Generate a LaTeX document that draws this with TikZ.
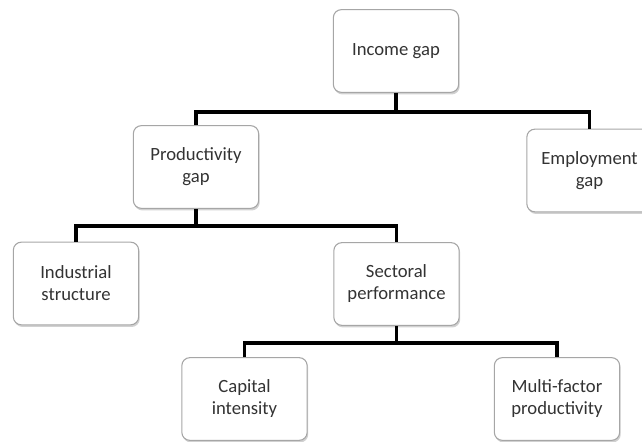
\documentclass[tikz,border=0pt]{standalone}
\usepackage{fontspec}
\setmainfont{Carlito}
\usetikzlibrary{shadows}
\definecolor{boxline}{HTML}{A6A6A6}
\definecolor{txt}{HTML}{333333}
\tikzset{
  box/.style={draw=boxline, line width=0.8pt, fill=white, rounded corners=6pt,
    minimum width=94pt, minimum height=62pt, align=center, text=txt,
    font=\fontsize{14}{16.5}\selectfont, inner sep=2pt,
    drop shadow={shadow xshift=0.8pt, shadow yshift=-1.6pt, fill=black!40, opacity=0.45}},
  conn/.style={draw=black, line width=2.3pt, line join=miter}
}
\begin{document}
\begin{tikzpicture}[x=0.75pt, y=-0.75pt]
\useasboundingbox (0,0) rectangle (642,442);
\node[box] (inc) at (396,51) {Income gap};
\node[box] (prod) at (196,167) {Productivity\\gap};
\node[box] (emp) at (589.5,170.5) {Employment\\gap};
\node[box] (ind) at (76,283.5) {Industrial\\structure};
\node[box] (sec) at (396.5,284) {Sectoral\\performance};
\node[box] (cap) at (244.5,399) {Capital\\intensity};
\node[box] (mfp) at (557,399) {Multi-factor\\productivity};
\coordinate (j1) at (396,112);
\coordinate (j2) at (196,226);
\coordinate (j3) at (396.5,343);
\draw[conn] (inc.south) -- (j1);
\draw[conn] (prod.north) |- (j1) -| (emp.north);
\draw[conn] (prod.south) -- (j2);
\draw[conn] (ind.north) |- (j2) -| (sec.north);
\draw[conn] (sec.south) -- (j3);
\draw[conn] (cap.north) |- (j3) -| (mfp.north);
\end{tikzpicture}
\end{document}
